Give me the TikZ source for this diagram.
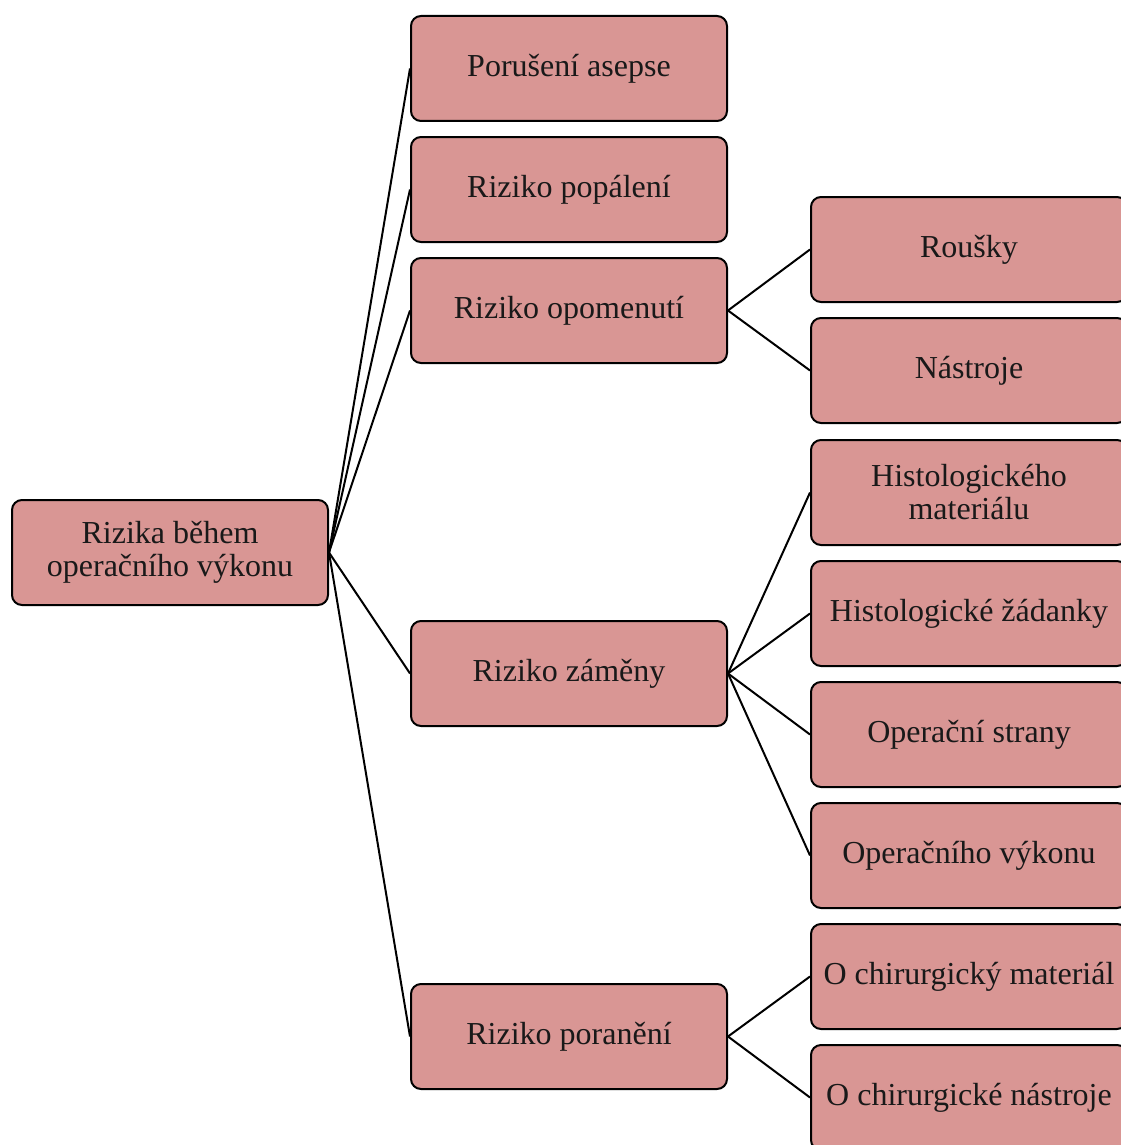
\documentclass[tikz,border=0pt]{standalone}
\usepackage{fontspec}
\setmainfont{Liberation Serif}
\definecolor{boxfill}{HTML}{D99694}
\tikzset{
  rbox/.style={draw=black, line width=2pt, fill=boxfill, rounded corners=10pt,
    minimum width=316pt, minimum height=105pt, inner sep=0pt, align=center,
    font=\fontsize{32}{33}\selectfont, text=black!90},
  link/.style={draw=black, line width=2pt}
}
\begin{document}
\begin{tikzpicture}[x=1pt,y=-1pt]
\useasboundingbox (0,0) rectangle (1120,1145);
\node[rbox] (root) at (170,552.5) {Rizika během\\operačního výkonu};
\node[rbox] (a) at (569,68.5) {Porušení asepse};
\node[rbox] (b) at (569,189.5) {Riziko popálení};
\node[rbox] (c) at (569,310.5) {Riziko opomenutí};
\node[rbox] (d) at (569,673.5) {Riziko záměny};
\node[rbox] (e) at (569,1036.5) {Riziko poranění};
\node[rbox] (c1) at (969,249.5) {Roušky};
\node[rbox] (c2) at (969,370.5) {Nástroje};
\node[rbox] (d1) at (969,492.5) {Histologického\\materiálu};
\node[rbox] (d2) at (969,613.5) {Histologické žádanky};
\node[rbox] (d3) at (969,734.5) {Operační strany};
\node[rbox] (d4) at (969,855.5) {Operačního výkonu};
\node[rbox] (e1) at (969,976.5) {O chirurgický materiál};
\node[rbox] (e2) at (969,1097.5) {O chirurgické nástroje};
\foreach \t in {a,b,c,d,e} \draw[link] (root.east) -- (\t.west);
\foreach \t in {c1,c2} \draw[link] (c.east) -- (\t.west);
\foreach \t in {d1,d2,d3,d4} \draw[link] (d.east) -- (\t.west);
\foreach \t in {e1,e2} \draw[link] (e.east) -- (\t.west);
\end{tikzpicture}
\end{document}
